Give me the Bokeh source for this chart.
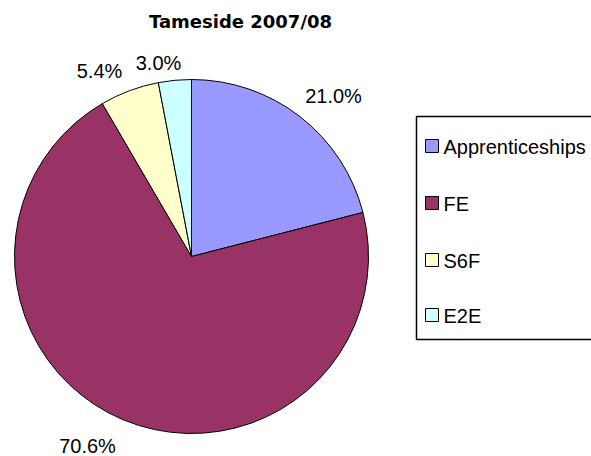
import numpy as np
from bokeh.plotting import figure
from bokeh.models import Range1d, ColumnDataSource
from bokeh.core.properties import value
from bokeh.embed import file_html
from bokeh.resources import INLINE

title = "Tameside 2007/08"
categories = ["Apprenticeships", "FE", "S6F", "E2E"]
shares = [21.0, 70.6, 5.4, 3.0]
labels = ["21.0%", "70.6%", "5.4%", "3.0%"]
colors = ["#9999FF", "#993366", "#FFFFCC", "#CCFFFF"]

W, H = 591, 456
def Y(py):
    return H - py

p = figure(width=W, height=H, output_backend="svg", toolbar_location=None,
           x_range=Range1d(0, W), y_range=Range1d(0, H),
           min_border=0, outline_line_color=None)
p.axis.visible = False
p.grid.visible = False
p.background_fill_color = "white"
p.border_fill_color = "white"

# pie
cx, cy, r = 191, Y(256), 177
vals = np.array(shares)
frac = vals / vals.sum()
cum = np.concatenate([[0], np.cumsum(frac)])
start = np.pi / 2 - cum[1:] * 2 * np.pi
end = np.pi / 2 - cum[:-1] * 2 * np.pi
src = ColumnDataSource(dict(start=start, end=end, color=colors))
p.wedge(x=cx, y=cy, radius=r, start_angle="start", end_angle="end",
        direction="anticlock", fill_color="color", line_color="black",
        line_width=1, source=src)

# data labels
lab_pos = [(333, 95), (87, 445), (99, 70), (158, 62)]
p.text(x=[q[0] for q in lab_pos], y=[Y(q[1]) for q in lab_pos], text=labels,
       text_font=value("Liberation Sans"), text_font_size="20px",
       text_align="center", text_baseline="middle", text_color="black")

# title
p.text(x=[240], y=[Y(21)], text=[title], text_font=value("DejaVu Sans"),
       text_font_size="18px", text_font_style="bold", text_align="center",
       text_baseline="middle", text_color="black")

# legend
p.quad(left=[416], right=[640], top=[Y(116)], bottom=[Y(339)],
       fill_color="white", line_color="black", line_width=1.5)
ly = [146, 203, 260, 315]
p.quad(left=[425] * 4, right=[438] * 4, top=[Y(v - 7) for v in ly],
       bottom=[Y(v + 6) for v in ly], fill_color=colors, line_color="black",
       line_width=1)
p.text(x=[443] * 4, y=[Y(v) for v in ly], text=categories,
       text_font=value("Liberation Sans"), text_font_size="20px",
       text_align="left", text_baseline="middle", text_color="black")

open("out.html", "w").write(file_html(p, INLINE))
